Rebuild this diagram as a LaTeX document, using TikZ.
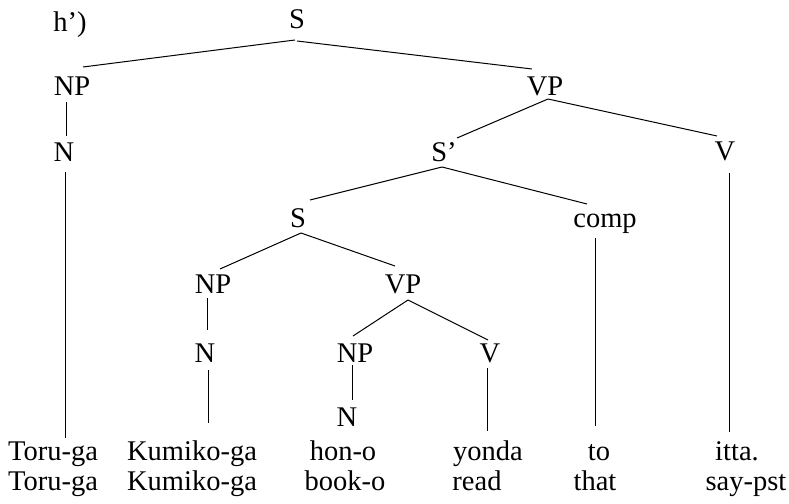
\documentclass[tikz,border=0pt]{standalone}
\usepackage{fontspec}
\setmainfont{Liberation Serif}
\begin{document}
\begin{tikzpicture}[x=1pt,y=-1pt,
  lbl/.style={inner sep=0pt,anchor=base,font=\fontsize{28.5}{30}\selectfont},
  edge/.style={line width=1pt,black}]
\useasboundingbox (0,0) rectangle (789,503);
% labels
\node[lbl] (h)  at (70,32) {h’)};
\node[lbl] (S0) at (297,29) {S};
\node[lbl] (NP1) at (72,95) {NP};
\node[lbl] (N1) at (64,161) {N};
\node[lbl] (VP1) at (545,95) {VP};
\node[lbl] (Sp) at (444,161) {S’};
\node[lbl] (V1) at (725,160) {V};
\node[lbl] (S2) at (298,227) {S};
\node[lbl] (comp) at (605,227) {comp};
\node[lbl] (NP2) at (213,293) {NP};
\node[lbl] (VP2) at (403,293) {VP};
\node[lbl] (N2) at (205,362) {N};
\node[lbl] (NP3) at (355,362) {NP};
\node[lbl] (V2) at (490,362) {V};
\node[lbl] (N3) at (347,426) {N};
% words
\node[lbl] (w1) at (53,460) {Toru-ga};
\node[lbl] (g1) at (53,490) {Toru-ga};
\node[lbl] (w2) at (192,460) {Kumiko-ga};
\node[lbl] (g2) at (192,490) {Kumiko-ga};
\node[lbl] (w3) at (343,460) {hon-o};
\node[lbl] (g3) at (345,490) {book-o};
\node[lbl] (w4) at (488,460) {yonda};
\node[lbl] (g4) at (477,490) {read};
\node[lbl] (w5) at (599,460) {to};
\node[lbl] (g5) at (595,490) {that};
\node[lbl] (w6) at (737,460) {itta.};
\node[lbl] (g6) at (746,490) {say-pst};
% connectors
\draw[edge] ([shift={(-2,11)}]S0.base) -- ([shift={(11,-28)}]NP1.base);
\draw[edge] ([shift={(0,12)}]S0.base) -- ([shift={(-13,-26)}]VP1.base);
\draw[edge] ([shift={(-6,7)}]NP1.base) -- ([shift={(2,-25)}]N1.base);
\draw[edge] ([shift={(1,11)}]N1.base) -- ([shift={(12,-22)}]w1.base);
\draw[edge] ([shift={(3,4)}]VP1.base) -- ([shift={(13,-23)}]Sp.base);
\draw[edge] ([shift={(3,4)}]VP1.base) -- ([shift={(-8,-24)}]V1.base);
\draw[edge] ([shift={(4,13)}]V1.base) -- ([shift={(-8,-28)}]w6.base);
\draw[edge] ([shift={(-2,6)}]Sp.base) -- ([shift={(12,-27)}]S2.base);
\draw[edge] ([shift={(-2,6)}]Sp.base) -- ([shift={(-18,-23)}]comp.base);
\draw[edge] ([shift={(-10,11)}]comp.base) -- ([shift={(-4,-34)}]w5.base);
\draw[edge] ([shift={(3,6)}]S2.base) -- ([shift={(7,-24)}]NP2.base);
\draw[edge] ([shift={(3,6)}]S2.base) -- ([shift={(-8,-27)}]VP2.base);
\draw[edge] ([shift={(-6,5)}]NP2.base) -- ([shift={(2,-32)}]N2.base);
\draw[edge] ([shift={(3,8)}]N2.base) -- ([shift={(16,-37)}]w2.base);
\draw[edge] ([shift={(5,7)}]VP2.base) -- ([shift={(-2,-26)}]NP3.base);
\draw[edge] ([shift={(5,7)}]VP2.base) -- ([shift={(-2,-22)}]V2.base);
\draw[edge] ([shift={(-3,3)}]NP3.base) -- ([shift={(5,-26)}]N3.base);
\draw[edge] ([shift={(-3,6)}]V2.base) -- ([shift={(-1,-29)}]w4.base);
\end{tikzpicture}
\end{document}
